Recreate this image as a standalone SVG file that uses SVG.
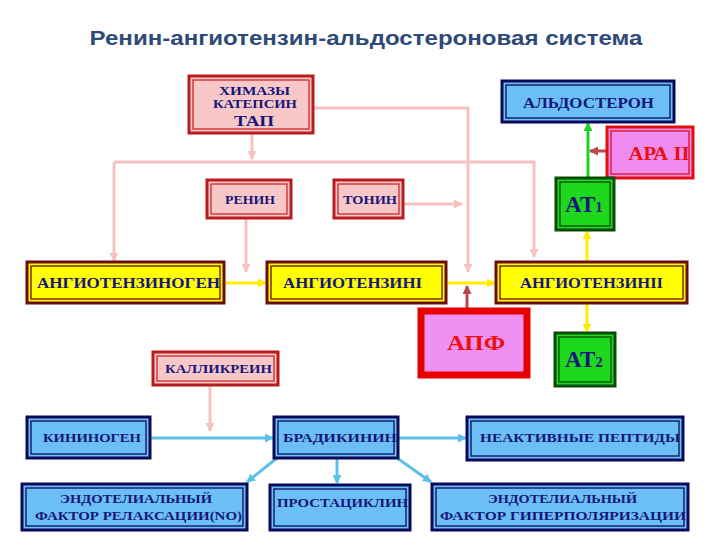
<svg xmlns="http://www.w3.org/2000/svg" width="720" height="540" viewBox="0 0 720 540">
<defs>
<style>
.t{font-family:"Liberation Serif","DejaVu Serif",serif;font-weight:bold;fill:#16167a;text-anchor:middle}
.pk .o{fill:#f8c8c8;stroke:#b81c1c;stroke-width:3}
.pk .i{fill:none;stroke:#c62828;stroke-width:1.3}
.ye .o{fill:#ffff00;stroke:#6a0d0d;stroke-width:3}
.ye .i{fill:none;stroke:#6a0d0d;stroke-width:1.3}
.bl .o{fill:#6cbff5;stroke:#0a0a5a;stroke-width:3}
.bl .i{fill:none;stroke:#0a0a5a;stroke-width:1.3}
.gr .o{fill:#1ed81e;stroke:#0a4a0a;stroke-width:3}
.gr .i{fill:none;stroke:#0a4a0a;stroke-width:1.3}
.c{fill:none;stroke-width:3}
.cp{stroke:#f5c2c2}
.cy{stroke:#ffec00}
.cb{stroke:#5cc0e8}
.cr{stroke:#b84848}
.cg{stroke:#22d022}
</style>
<marker id="ap" markerUnits="userSpaceOnUse" markerWidth="9" markerHeight="9" refX="8" refY="4.5" orient="auto"><path d="M0,0 L9,4.5 L0,9 z" fill="#f5c2c2"/></marker>
<marker id="ay" markerUnits="userSpaceOnUse" markerWidth="9" markerHeight="9" refX="8" refY="4.5" orient="auto"><path d="M0,0 L9,4.5 L0,9 z" fill="#ffec00"/></marker>
<marker id="ab" markerUnits="userSpaceOnUse" markerWidth="9" markerHeight="9" refX="8" refY="4.5" orient="auto"><path d="M0,0 L9,4.5 L0,9 z" fill="#5cc0e8"/></marker>
<marker id="ar" markerUnits="userSpaceOnUse" markerWidth="9" markerHeight="9" refX="8" refY="4.5" orient="auto"><path d="M0,0 L9,4.5 L0,9 z" fill="#b84848"/></marker>
<marker id="ag" markerUnits="userSpaceOnUse" markerWidth="9" markerHeight="9" refX="8" refY="4.5" orient="auto"><path d="M0,0 L9,4.5 L0,9 z" fill="#22d022"/></marker>
</defs>
<rect width="720" height="540" fill="#ffffff"/>
<text x="366" y="45" font-family="Liberation Sans, Arial, sans-serif" font-weight="bold" font-size="21" fill="#2e4a78" text-anchor="middle" textLength="553" lengthAdjust="spacingAndGlyphs">Ренин-ангиотензин-альдостероновая система</text>

<g id="connectors">
<path class="c cp" d="M252,134 V159" marker-end="url(#ap)"/>
<path class="c cp" d="M114,162 H534 V257" marker-end="url(#ap)"/>
<path class="c cp" d="M114,162 V261" marker-end="url(#ap)"/>
<path class="c cp" d="M314,108 H468 V272" marker-end="url(#ap)"/>
<path class="c cp" d="M246,218 V272" marker-end="url(#ap)"/>
<path class="c cp" d="M403,204 H462" marker-end="url(#ap)"/>
<path class="c cp" d="M210,385 V431" marker-end="url(#ap)"/>
<path class="c cy" d="M224,283 H266" marker-end="url(#ay)"/>
<path class="c cy" d="M446,283 H495" marker-end="url(#ay)"/>
<path class="c cy" d="M587,303 V332" marker-end="url(#ay)"/>
<path class="c cy" d="M587,261 V231" marker-end="url(#ay)"/>
<path class="c cr" d="M467,310 V286" marker-end="url(#ar)"/>
<path class="c cr" d="M607,151 H590" marker-end="url(#ar)"/>
<path class="c cg" d="M588,178 V123" marker-end="url(#ag)"/>
<path class="c cb" d="M150,438 H273" marker-end="url(#ab)"/>
<path class="c cb" d="M398,438 H466" marker-end="url(#ab)"/>
<path class="c cb" d="M277,458 L247,482" marker-end="url(#ab)"/>
<path class="c cb" d="M337,458 V483" marker-end="url(#ab)"/>
<path class="c cb" d="M397,458 L431,482" marker-end="url(#ab)"/>
</g>

<g id="himazy" class="pk">
<rect class="o" x="189" y="76" width="124" height="57"/><rect class="i" x="193" y="80" width="116" height="49"/>
<text class="t" x="254.5" y="94.5" font-size="12" textLength="71" lengthAdjust="spacingAndGlyphs">ХИМАЗЫ</text>
<text class="t" x="255" y="108" font-size="12" textLength="84" lengthAdjust="spacingAndGlyphs">КАТЕПСИН</text>
<text class="t" x="254" y="126" font-size="14" textLength="40" lengthAdjust="spacingAndGlyphs">ТАП</text>
</g>
<g id="aldosteron" class="bl">
<rect class="o" x="502" y="81" width="172" height="41"/><rect class="i" x="506" y="85" width="164" height="33"/>
<text class="t" x="588.5" y="108" font-size="14" textLength="131" lengthAdjust="spacingAndGlyphs">АЛЬДОСТЕРОН</text>
</g>
<g id="ara2">
<rect x="607" y="127" width="86" height="51" fill="#f08cf0" stroke="#e01010" stroke-width="3"/><rect x="611" y="131" width="78" height="43" fill="none" stroke="#e01010" stroke-width="1.3"/>
<text class="t" x="659" y="160" font-size="18" style="fill:#e81010" textLength="61" lengthAdjust="spacingAndGlyphs">АРА II</text>
</g>
<g id="at1" class="gr">
<rect class="o" x="556" y="178" width="58" height="52"/><rect class="i" x="560" y="182" width="50" height="44"/>
<text class="t" x="565" y="212" font-size="23" style="text-anchor:start">AT<tspan font-size="15">1</tspan></text>
</g>
<g id="renin" class="pk">
<rect class="o" x="207" y="180" width="84" height="38"/><rect class="i" x="211" y="184" width="76" height="30"/>
<text class="t" x="250" y="204" font-size="12.5" textLength="50" lengthAdjust="spacingAndGlyphs">РЕНИН</text>
</g>
<g id="tonin" class="pk">
<rect class="o" x="334" y="180" width="69" height="38"/><rect class="i" x="338" y="184" width="61" height="30"/>
<text class="t" x="370" y="204" font-size="12.5" textLength="54" lengthAdjust="spacingAndGlyphs">ТОНИН</text>
</g>
<g id="angiotensinogen" class="ye">
<rect class="o" x="27" y="262" width="197" height="41"/><rect class="i" x="31" y="266" width="189" height="33"/>
<text class="t" x="128.5" y="287.5" font-size="14" textLength="183" lengthAdjust="spacingAndGlyphs">АНГИОТЕНЗИНОГЕН</text>
</g>
<g id="angiotensin1" class="ye">
<rect class="o" x="267" y="262" width="179" height="41"/><rect class="i" x="271" y="266" width="171" height="33"/>
<text class="t" x="352.5" y="287.5" font-size="14" textLength="139" lengthAdjust="spacingAndGlyphs">АНГИОТЕНЗИНI</text>
</g>
<g id="angiotensin2" class="ye">
<rect class="o" x="496" y="262" width="191" height="41"/><rect class="i" x="500" y="266" width="183" height="33"/>
<text class="t" x="591.5" y="288" font-size="14" textLength="143" lengthAdjust="spacingAndGlyphs">АНГИОТЕНЗИНII</text>
</g>
<g id="apf">
<rect x="421" y="311" width="106" height="64" fill="#f090f0" stroke="#e80000" stroke-width="7"/>
<text class="t" x="476" y="350" font-size="21" style="fill:#e81010" textLength="58" lengthAdjust="spacingAndGlyphs">АПФ</text>
</g>
<g id="at2" class="gr">
<rect class="o" x="555" y="333" width="60" height="53"/><rect class="i" x="559" y="337" width="52" height="45"/>
<text class="t" x="565" y="367" font-size="23" style="text-anchor:start">AT<tspan font-size="15">2</tspan></text>
</g>
<g id="kallikrein" class="pk">
<rect class="o" x="153" y="352" width="125" height="33"/><rect class="i" x="157" y="356" width="117" height="25"/>
<text class="t" x="218.5" y="373" font-size="13" textLength="107" lengthAdjust="spacingAndGlyphs">КАЛЛИКРЕИН</text>
</g>
<g id="kininogen" class="bl">
<rect class="o" x="27" y="417" width="123" height="41"/><rect class="i" x="31" y="421" width="115" height="33"/>
<text class="t" x="92" y="442" font-size="13" textLength="98" lengthAdjust="spacingAndGlyphs">КИНИНОГЕН</text>
</g>
<g id="bradykinin" class="bl">
<rect class="o" x="274" y="417" width="124" height="41"/><rect class="i" x="278" y="421" width="116" height="33"/>
<text class="t" x="340" y="442" font-size="13" textLength="114" lengthAdjust="spacingAndGlyphs">БРАДИКИНИН</text>
</g>
<g id="inactive-peptides" class="bl">
<rect class="o" x="467" y="417" width="216" height="43"/><rect class="i" x="471" y="421" width="208" height="35"/>
<text class="t" x="580" y="442" font-size="13" textLength="200" lengthAdjust="spacingAndGlyphs">НЕАКТИВНЫЕ  ПЕПТИДЫ</text>
</g>
<g id="edrf" class="bl">
<rect class="o" x="22" y="484" width="225" height="46"/><rect class="i" x="26" y="488" width="217" height="38"/>
<text class="t" x="136" y="503" font-size="13" textLength="152" lengthAdjust="spacingAndGlyphs">ЭНДОТЕЛИАЛЬНЫЙ</text>
<text class="t" x="138.5" y="520" font-size="13" textLength="207" lengthAdjust="spacingAndGlyphs">ФАКТОР РЕЛАКСАЦИИ(NO)</text>
</g>
<g id="prostacyclin" class="bl">
<rect class="o" x="270" y="485" width="140" height="45"/><rect class="i" x="274" y="489" width="132" height="37"/>
<text class="t" x="342.5" y="507" font-size="13" textLength="131" lengthAdjust="spacingAndGlyphs">ПРОСТАЦИКЛИН</text>
</g>
<g id="edhf" class="bl">
<rect class="o" x="432" y="484" width="256" height="46"/><rect class="i" x="436" y="488" width="248" height="38"/>
<text class="t" x="562.5" y="503" font-size="13" textLength="149" lengthAdjust="spacingAndGlyphs">ЭНДОТЕЛИАЛЬНЫЙ</text>
<text class="t" x="563" y="520" font-size="13" textLength="246" lengthAdjust="spacingAndGlyphs">ФАКТОР ГИПЕРПОЛЯРИЗАЦИИ</text>
</g>
</svg>
